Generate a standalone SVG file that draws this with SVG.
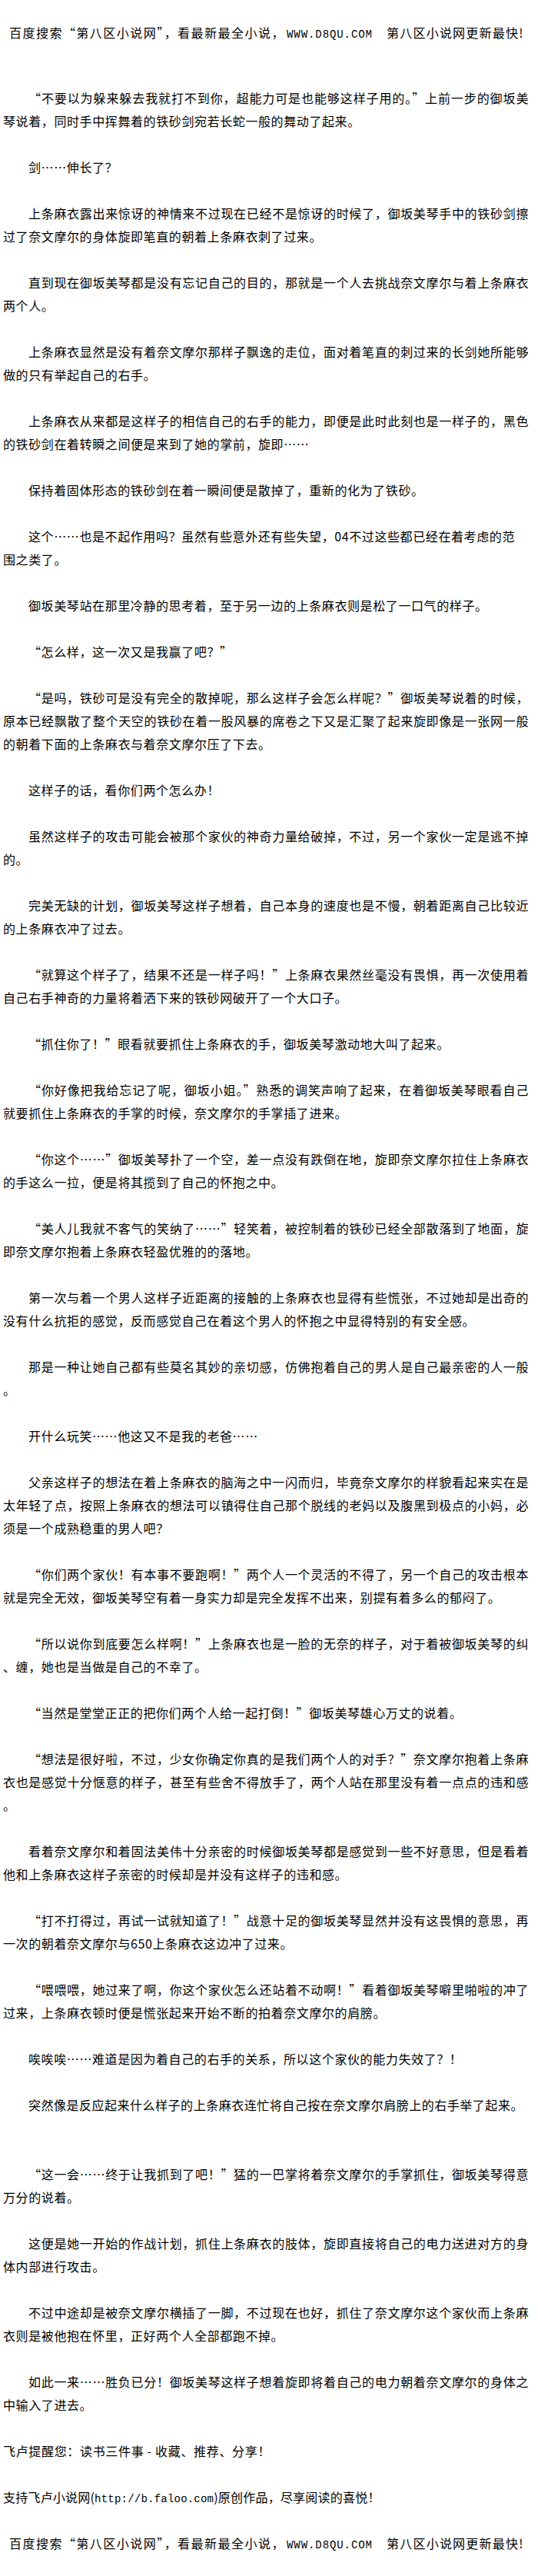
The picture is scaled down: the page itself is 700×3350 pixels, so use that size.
<svg xmlns="http://www.w3.org/2000/svg" width="700" height="3350" viewBox="0 0 700 3350">
<style>
.t{font-family:"Noto Sans CJK SC","Liberation Sans",sans-serif;font-size:16px;fill:#000;letter-spacing:0.6px}
.m{font-family:"Liberation Mono","DejaVu Sans Mono",monospace;font-size:14px;fill:#000}
</style>
<rect x="0" y="0" width="700" height="3350" fill="#fff"/>
<g id="header">
<text class="t" x="12" y="49" textLength="358" lengthAdjust="spacing">百度搜索“第八区小说网”，看最新最全小说，</text>
<text class="m" x="373" y="49" textLength="111" lengthAdjust="spacing">WWW.D8QU.COM</text>
<text class="t" x="503" y="49" textLength="178" lengthAdjust="spacing">第八区小说网更新最快!</text>
</g>
<g id="body">
<text class="t" x="37" y="134" textLength="651" lengthAdjust="spacing">“不要以为躲来躲去我就打不到你，超能力可是也能够这样子用的。”上前一步的御坂美</text>
<text class="t" x="4" y="164">琴说着，同时手中挥舞着的铁砂剑宛若长蛇一般的舞动了起来。</text>
<text class="t" x="37" y="224">剑……伸长了？</text>
<text class="t" x="37" y="284" textLength="651" lengthAdjust="spacing">上条麻衣露出来惊讶的神情来不过现在已经不是惊讶的时候了，御坂美琴手中的铁砂剑擦</text>
<text class="t" x="4" y="314">过了奈文摩尔的身体旋即笔直的朝着上条麻衣刺了过来。</text>
<text class="t" x="37" y="374" textLength="651" lengthAdjust="spacing">直到现在御坂美琴都是没有忘记自己的目的，那就是一个人去挑战奈文摩尔与着上条麻衣</text>
<text class="t" x="4" y="404">两个人。</text>
<text class="t" x="37" y="464" textLength="651" lengthAdjust="spacing">上条麻衣显然是没有着奈文摩尔那样子飘逸的走位，面对着笔直的刺过来的长剑她所能够</text>
<text class="t" x="4" y="494">做的只有举起自己的右手。</text>
<text class="t" x="37" y="554" textLength="651" lengthAdjust="spacing">上条麻衣从来都是这样子的相信自己的右手的能力，即便是此时此刻也是一样子的，黑色</text>
<text class="t" x="4" y="584">的铁砂剑在着转瞬之间便是来到了她的掌前，旋即……</text>
<text class="t" x="37" y="644">保持着固体形态的铁砂剑在着一瞬间便是散掉了，重新的化为了铁砂。</text>
<text class="t" x="37" y="704" textLength="633" lengthAdjust="spacing">这个……也是不起作用吗？虽然有些意外还有些失望，04不过这些都已经在着考虑的范</text>
<text class="t" x="4" y="734">围之类了。</text>
<text class="t" x="37" y="794">御坂美琴站在那里冷静的思考着，至于另一边的上条麻衣则是松了一口气的样子。</text>
<text class="t" x="37" y="854">“怎么样，这一次又是我赢了吧？”</text>
<text class="t" x="37" y="914" textLength="651" lengthAdjust="spacing">“是吗，铁砂可是没有完全的散掉呢，那么这样子会怎么样呢？”御坂美琴说着的时候，</text>
<text class="t" x="4" y="944" textLength="684" lengthAdjust="spacing">原本已经飘散了整个天空的铁砂在着一股风暴的席卷之下又是汇聚了起来旋即像是一张网一般</text>
<text class="t" x="4" y="974">的朝着下面的上条麻衣与着奈文摩尔压了下去。</text>
<text class="t" x="37" y="1034">这样子的话，看你们两个怎么办！</text>
<text class="t" x="37" y="1094" textLength="651" lengthAdjust="spacing">虽然这样子的攻击可能会被那个家伙的神奇力量给破掉，不过，另一个家伙一定是逃不掉</text>
<text class="t" x="4" y="1124">的。</text>
<text class="t" x="37" y="1184" textLength="651" lengthAdjust="spacing">完美无缺的计划，御坂美琴这样子想着，自己本身的速度也是不慢，朝着距离自己比较近</text>
<text class="t" x="4" y="1214">的上条麻衣冲了过去。</text>
<text class="t" x="37" y="1274" textLength="651" lengthAdjust="spacing">“就算这个样子了，结果不还是一样子吗！”上条麻衣果然丝毫没有畏惧，再一次使用着</text>
<text class="t" x="4" y="1304">自己右手神奇的力量将着洒下来的铁砂网破开了一个大口子。</text>
<text class="t" x="37" y="1364">“抓住你了！”眼看就要抓住上条麻衣的手，御坂美琴激动地大叫了起来。</text>
<text class="t" x="37" y="1424" textLength="651" lengthAdjust="spacing">“你好像把我给忘记了呢，御坂小姐。”熟悉的调笑声响了起来，在着御坂美琴眼看自己</text>
<text class="t" x="4" y="1454">就要抓住上条麻衣的手掌的时候，奈文摩尔的手掌插了进来。</text>
<text class="t" x="37" y="1514" textLength="651" lengthAdjust="spacing">“你这个……”御坂美琴扑了一个空，差一点没有跌倒在地，旋即奈文摩尔拉住上条麻衣</text>
<text class="t" x="4" y="1544">的手这么一拉，便是将其揽到了自己的怀抱之中。</text>
<text class="t" x="37" y="1604" textLength="651" lengthAdjust="spacing">“美人儿我就不客气的笑纳了……”轻笑着，被控制着的铁砂已经全部散落到了地面，旋</text>
<text class="t" x="4" y="1634">即奈文摩尔抱着上条麻衣轻盈优雅的的落地。</text>
<text class="t" x="37" y="1694" textLength="651" lengthAdjust="spacing">第一次与着一个男人这样子近距离的接触的上条麻衣也显得有些慌张，不过她却是出奇的</text>
<text class="t" x="4" y="1724">没有什么抗拒的感觉，反而感觉自己在着这个男人的怀抱之中显得特别的有安全感。</text>
<text class="t" x="37" y="1784" textLength="651" lengthAdjust="spacing">那是一种让她自己都有些莫名其妙的亲切感，仿佛抱着自己的男人是自己最亲密的人一般</text>
<text class="t" x="4" y="1814">。</text>
<text class="t" x="37" y="1874">开什么玩笑……他这又不是我的老爸……</text>
<text class="t" x="37" y="1934" textLength="651" lengthAdjust="spacing">父亲这样子的想法在着上条麻衣的脑海之中一闪而归，毕竟奈文摩尔的样貌看起来实在是</text>
<text class="t" x="4" y="1964" textLength="684" lengthAdjust="spacing">太年轻了点，按照上条麻衣的想法可以镇得住自己那个脱线的老妈以及腹黑到极点的小妈，必</text>
<text class="t" x="4" y="1994">须是一个成熟稳重的男人吧？</text>
<text class="t" x="37" y="2054" textLength="651" lengthAdjust="spacing">“你们两个家伙！有本事不要跑啊！”两个人一个灵活的不得了，另一个自己的攻击根本</text>
<text class="t" x="4" y="2084">就是完全无效，御坂美琴空有着一身实力却是完全发挥不出来，别提有着多么的郁闷了。</text>
<text class="t" x="37" y="2144" textLength="651" lengthAdjust="spacing">“所以说你到底要怎么样啊！”上条麻衣也是一脸的无奈的样子，对于着被御坂美琴的纠</text>
<text class="t" x="4" y="2174">、缠，她也是当做是自己的不幸了。</text>
<text class="t" x="37" y="2234">“当然是堂堂正正的把你们两个人给一起打倒！”御坂美琴雄心万丈的说着。</text>
<text class="t" x="37" y="2294" textLength="651" lengthAdjust="spacing">“想法是很好啦，不过，少女你确定你真的是我们两个人的对手？”奈文摩尔抱着上条麻</text>
<text class="t" x="4" y="2324" textLength="684" lengthAdjust="spacing">衣也是感觉十分惬意的样子，甚至有些舍不得放手了，两个人站在那里没有着一点点的违和感</text>
<text class="t" x="4" y="2354">。</text>
<text class="t" x="37" y="2414" textLength="651" lengthAdjust="spacing">看着奈文摩尔和着固法美伟十分亲密的时候御坂美琴都是感觉到一些不好意思，但是看着</text>
<text class="t" x="4" y="2444">他和上条麻衣这样子亲密的时候却是并没有这样子的违和感。</text>
<text class="t" x="37" y="2504" textLength="651" lengthAdjust="spacing">“打不打得过，再试一试就知道了！”战意十足的御坂美琴显然并没有这畏惧的意思，再</text>
<text class="t" x="4" y="2534">一次的朝着奈文摩尔与650上条麻衣这边冲了过来。</text>
<text class="t" x="37" y="2594" textLength="651" lengthAdjust="spacing">“喂喂喂，她过来了啊，你这个家伙怎么还站着不动啊！”看着御坂美琴噼里啪啦的冲了</text>
<text class="t" x="4" y="2624">过来，上条麻衣顿时便是慌张起来开始不断的拍着奈文摩尔的肩膀。</text>
<text class="t" x="37" y="2684">唉唉唉……难道是因为着自己的右手的关系，所以这个家伙的能力失效了？！</text>
<text class="t" x="37" y="2744" textLength="644" lengthAdjust="spacing">突然像是反应起来什么样子的上条麻衣连忙将自己按在奈文摩尔肩膀上的右手举了起来。</text>
<text class="t" x="37" y="2834" textLength="651" lengthAdjust="spacing">“这一会……终于让我抓到了吧！”猛的一巴掌将着奈文摩尔的手掌抓住，御坂美琴得意</text>
<text class="t" x="4" y="2864">万分的说着。</text>
<text class="t" x="37" y="2924" textLength="651" lengthAdjust="spacing">这便是她一开始的作战计划，抓住上条麻衣的肢体，旋即直接将自己的电力送进对方的身</text>
<text class="t" x="4" y="2954">体内部进行攻击。</text>
<text class="t" x="37" y="3014" textLength="651" lengthAdjust="spacing">不过中途却是被奈文摩尔横插了一脚，不过现在也好，抓住了奈文摩尔这个家伙而上条麻</text>
<text class="t" x="4" y="3044">衣则是被他抱在怀里，正好两个人全部都跑不掉。</text>
<text class="t" x="37" y="3104" textLength="651" lengthAdjust="spacing">如此一来……胜负已分！御坂美琴这样子想着旋即将着自己的电力朝着奈文摩尔的身体之</text>
<text class="t" x="4" y="3134">中输入了进去。</text>
</g>
<g id="footer">
<text class="t" x="4" y="3194" textLength="348" lengthAdjust="spacing">飞卢提醒您：读书三件事 - 收藏、推荐、分享！</text>
<text class="t" x="4" y="3254" textLength="491" lengthAdjust="spacing">支持飞卢小说网(<tspan class="m">http://b.faloo.com</tspan>)原创作品，尽享阅读的喜悦！</text>
<text class="t" x="12" y="3314" textLength="358" lengthAdjust="spacing">百度搜索“第八区小说网”，看最新最全小说，</text>
<text class="m" x="373" y="3314" textLength="111" lengthAdjust="spacing">WWW.D8QU.COM</text>
<text class="t" x="503" y="3314" textLength="178" lengthAdjust="spacing">第八区小说网更新最快!</text>
</g>
</svg>
